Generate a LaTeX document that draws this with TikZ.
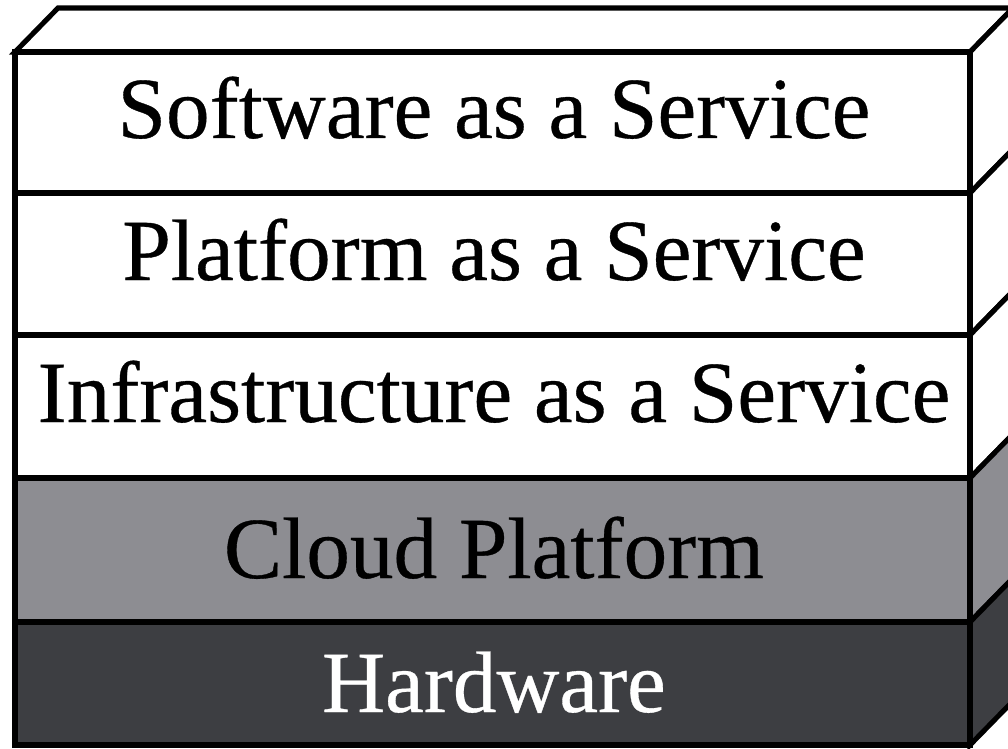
\documentclass[tikz,border=0pt]{standalone}
\usepackage{fontspec}
\setmainfont{Liberation Serif}[FakeBold=0.4]
\usepackage{tikz}
\usepackage{xcolor}
\definecolor{CloudGray}{RGB}{141,141,146}
\definecolor{HwGray}{RGB}{61,62,66}
\tikzset{
  slab/.style={draw=black, line width=3.6pt},
  slabtext/.style={anchor=base, inner sep=0pt,
    font=\fontsize{62}{74}\selectfont}
}

\begin{document}
\begin{tikzpicture}[x=0.025cm, y=-0.025cm]
  \useasboundingbox (0,0) rectangle (1008,749);
  \clip (0,0) rectangle (1008,749);
  % lid of the stack
  \draw[slab, fill=white] (15,52) -- (58,8) -- (1013,8) -- (970,52) -- cycle;
  % one slab per layer: front face, right side face, label
  \foreach \top/\bot/\base/\col/\txtcol/\txt [count=\i] in {
      52/193/138/white/black/Software as a Service,
      193/335/280/white/black/Platform as a Service,
      335/478/422/white/black/Infrastructure as a Service,
      478/622/578/CloudGray/black/Cloud Platform,
      622/745/712/HwGray/white/Hardware} {
    \draw[slab, fill=\col] (970,\top) -- (1013,\top-44) -- (1013,\bot-44)
      -- (970,\bot) -- cycle;
    \draw[slab, fill=\col] (15,\top) rectangle (970,\bot);
    \node[slabtext, text=\txtcol] (layer\i) at (494,\base) {\txt};
  }
\end{tikzpicture}
\end{document}
